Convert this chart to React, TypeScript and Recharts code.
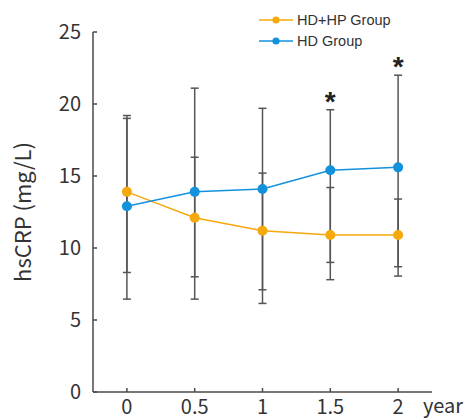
import React from 'react';
import { LineChart, Line, XAxis, YAxis, ErrorBar } from 'recharts';

const years = [0, 0.5, 1, 1.5, 2];
const yTicks = [0, 5, 10, 15, 20, 25];
const hdhpMean = [13.9, 12.1, 11.2, 10.9, 10.9];
const hdhpLow = [8.3, 8.0, 7.1, 7.8, 8.7];
const hdhpHigh = [19.0, 16.3, 15.2, 14.2, 13.4];
const hdMean = [12.9, 13.9, 14.1, 15.4, 15.6];
const hdLow = [6.45, 6.45, 6.15, 9.0, 8.05];
const hdHigh = [19.2, 21.1, 19.7, 19.6, 22.0];
const significant = [false, false, false, true, true];

const seriesNames = ['HD+HP Group', 'HD Group'];
const ORANGE = '#F5A90C';
const BLUE = '#1291DC';
const AXIS = '#4a4a4a';
const TXT = '#333';

const data = years.map((x, i) => ({
  x,
  hdhp: hdhpMean[i],
  hdhpErr: [hdhpMean[i] - hdhpLow[i], hdhpHigh[i] - hdhpMean[i]],
  hd: hdMean[i],
  hdErr: [hdMean[i] - hdLow[i], hdHigh[i] - hdMean[i]],
  sig: significant[i] ? hdHigh[i] : null,
}));

const CustomLegend = () => (
  <div
    style={{
      position: 'absolute',
      left: 259,
      top: 10,
      fontFamily: '"Liberation Sans", Arial, sans-serif',
      fontSize: 14.5,
      color: TXT,
    }}
  >
    {[ORANGE, BLUE].map((c, i) => (
      <div key={i} style={{ display: 'flex', alignItems: 'center', height: 20.5 }}>
        <svg width={34} height={10} style={{ display: 'block' }}>
          <line x1={0} y1={5} x2={34} y2={5} stroke={c} strokeWidth={1.5} />
          <circle cx={17} cy={5} r={3.6} fill={c} />
        </svg>
        <span style={{ marginLeft: 4, lineHeight: '20px' }}>{seriesNames[i]}</span>
      </div>
    ))}
  </div>
);

const StarLabel = (props: any) => {
  const { x, y, value } = props;
  if (value == null || x == null || y == null) return null;
  return (
    <text
      x={x}
      y={y}
      dy={1}
      textAnchor="middle"
      fontFamily='"Liberation Sans", Arial, sans-serif'
      fontWeight="bold"
      fontSize={28}
      fill="#222"
    >
      *
    </text>
  );
};

export default function App() {
  const tickStyle = { fontFamily: '"Noto Sans CJK SC", "Noto Sans", sans-serif', fontSize: 20, fill: TXT };
  return (
    <div style={{ position: 'absolute', left: 0, top: 0, width: 471, height: 420, background: '#fff' }}>
      <LineChart width={471} height={420} data={data} margin={{ top: 32, right: 39, bottom: 0, left: 0 }}>
        <XAxis
          dataKey="x"
          type="number"
          domain={[-0.25, 2.25]}
          ticks={years}
          allowDataOverflow
          height={28}
          tickSize={-4}
          tickMargin={12}
          stroke={AXIS}
          strokeWidth={1.5}
          tick={tickStyle}
          label={{
            value: 'year',
            position: 'right',
            offset: -9,
            dy: 0,
            style: { fontFamily: '"Noto Sans CJK SC", "Noto Sans", sans-serif', fontSize: 20, fill: TXT },
          }}
        />
        <YAxis
          type="number"
          domain={[0, 25]}
          ticks={yTicks}
          width={93}
          tickSize={-4}
          tickMargin={16}
          stroke={AXIS}
          strokeWidth={1.5}
          tick={tickStyle}
          label={{
            value: 'hsCRP (mg/L)',
            angle: -90,
            position: 'center',
            dx: -23,
            style: { fontFamily: '"Noto Sans CJK SC", "Noto Sans", sans-serif', fontSize: 22, fill: TXT, textAnchor: 'middle' },
          }}
        />
        <Line dataKey="hdhp" stroke="none" dot={false} activeDot={false} legendType="none" isAnimationActive={false}>
          <ErrorBar dataKey="hdhpErr" width={4} stroke="#555" strokeWidth={1.5} />
        </Line>
        <Line dataKey="hd" stroke="none" dot={false} activeDot={false} legendType="none" isAnimationActive={false}>
          <ErrorBar dataKey="hdErr" width={4} stroke="#555" strokeWidth={1.5} />
        </Line>
        <Line
          dataKey="hdhp"
          name={seriesNames[0]}
          stroke={ORANGE}
          strokeWidth={1.5}
          dot={{ r: 5, fill: ORANGE, stroke: ORANGE, strokeWidth: 0 }}
          activeDot={false}
          isAnimationActive={false}
        />
        <Line
          dataKey="hd"
          name={seriesNames[1]}
          stroke={BLUE}
          strokeWidth={1.5}
          dot={{ r: 5, fill: BLUE, stroke: BLUE, strokeWidth: 0 }}
          activeDot={false}
          isAnimationActive={false}
        />
        <Line
          dataKey="sig"
          stroke="none"
          dot={false}
          activeDot={false}
          legendType="none"
          connectNulls={false}
          isAnimationActive={false}
          label={<StarLabel />}
        />
      </LineChart>
      <CustomLegend />
    </div>
  );
}
